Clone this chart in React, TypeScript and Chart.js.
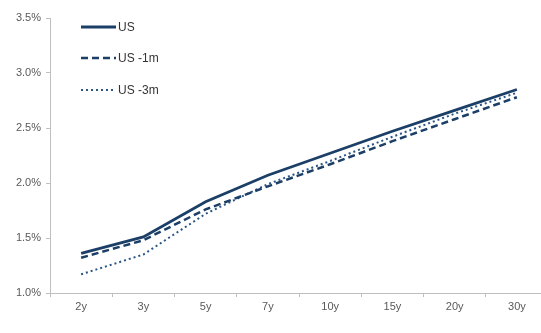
import React, { useEffect, useRef } from "react";
import { Chart, registerables } from "chart.js";

Chart.register(...registerables);

const categories = ["2y", "3y", "5y", "7y", "10y", "15y", "20y", "30y"];
const usNow = [1.36, 1.51, 1.83, 2.07, 2.27, 2.47, 2.66, 2.85];
const us1m = [1.32, 1.48, 1.76, 1.97, 2.17, 2.38, 2.58, 2.78];
const us3m = [1.17, 1.35, 1.72, 1.99, 2.2, 2.42, 2.63, 2.82];
const seriesNames = ["US", "US -1m", "US -3m"];
const yTicks = [1.0, 1.5, 2.0, 2.5, 3.0, 3.5];

const NAVY = "#1b3f66";
const FONT = "'Liberation Sans', Arial, sans-serif";

const legendPlugin = {
  id: "insideLegend",
  afterDraw(chart: any) {
    const ctx = chart.ctx;
    const rows = [27, 58, 90];
    chart.data.datasets.forEach((ds: any, i: number) => {
      const y = rows[i];
      ctx.save();
      ctx.strokeStyle = ds.borderColor;
      ctx.lineWidth = ds.borderWidth;
      ctx.setLineDash(ds.borderDash || []);
      ctx.beginPath();
      ctx.moveTo(81, y);
      ctx.lineTo(116, y);
      ctx.stroke();
      ctx.setLineDash([]);
      ctx.fillStyle = "#333333";
      ctx.font = "12px " + FONT;
      ctx.textBaseline = "middle";
      ctx.textAlign = "left";
      ctx.fillText(ds.label, 118, y + 1);
      ctx.restore();
    });
  },
};

export default function App() {
  const ref = useRef<HTMLCanvasElement | null>(null);
  useEffect(() => {
    if (!ref.current) return;
    const chart = new Chart(ref.current, {
      type: "line",
      data: {
        labels: categories,
        datasets: [
          { label: seriesNames[0], data: usNow, borderColor: NAVY, borderWidth: 2.8, pointRadius: 0, fill: false, tension: 0 },
          { label: seriesNames[1], data: us1m, borderColor: NAVY, borderWidth: 2.5, borderDash: [7, 4], pointRadius: 0, fill: false, tension: 0 },
          { label: seriesNames[2], data: us3m, borderColor: "#2a5585", borderWidth: 2, borderDash: [2, 3], pointRadius: 0, fill: false, tension: 0 },
        ],
      },
      options: {
        responsive: false,
        animation: false,
        devicePixelRatio: 1,
        layout: { padding: { top: 18, right: 12, left: 0, bottom: 0 } },
        plugins: { legend: { display: false }, tooltip: { enabled: false } },
        scales: {
          x: {
            offset: true,
            grid: { display: true, drawOnChartArea: false, offset: true, tickLength: 4, color: "#bfbfbf" },
            border: { color: "#bfbfbf", width: 1 },
            ticks: { color: "#595959", font: { size: 11, family: FONT }, padding: 3, maxRotation: 0 },
            afterFit: (s: any) => { s.height = 40; },
          },
          y: {
            min: 1.0,
            max: 3.5,
            afterBuildTicks: (s: any) => { s.ticks = yTicks.map((v) => ({ value: v })); },
            grid: { display: true, drawOnChartArea: false, tickLength: 4, color: "#bfbfbf" },
            border: { color: "#bfbfbf", width: 1 },
            ticks: {
              color: "#595959",
              font: { size: 11, family: FONT },
              padding: 5,
              callback: (v: any) => Number(v).toFixed(1) + "%",
            },
            afterFit: (s: any) => { s.width = 50; },
          },
        },
      },
      plugins: [legendPlugin],
    });
    return () => chart.destroy();
  }, []);
  return (
    <div style={{ position: "fixed", left: 0, top: 0, width: 541, height: 333, overflow: "hidden", background: "#fff" }}>
      <canvas ref={ref} width={560} height={333} style={{ width: 560, height: 333, display: "block" }} />
    </div>
  );
}
